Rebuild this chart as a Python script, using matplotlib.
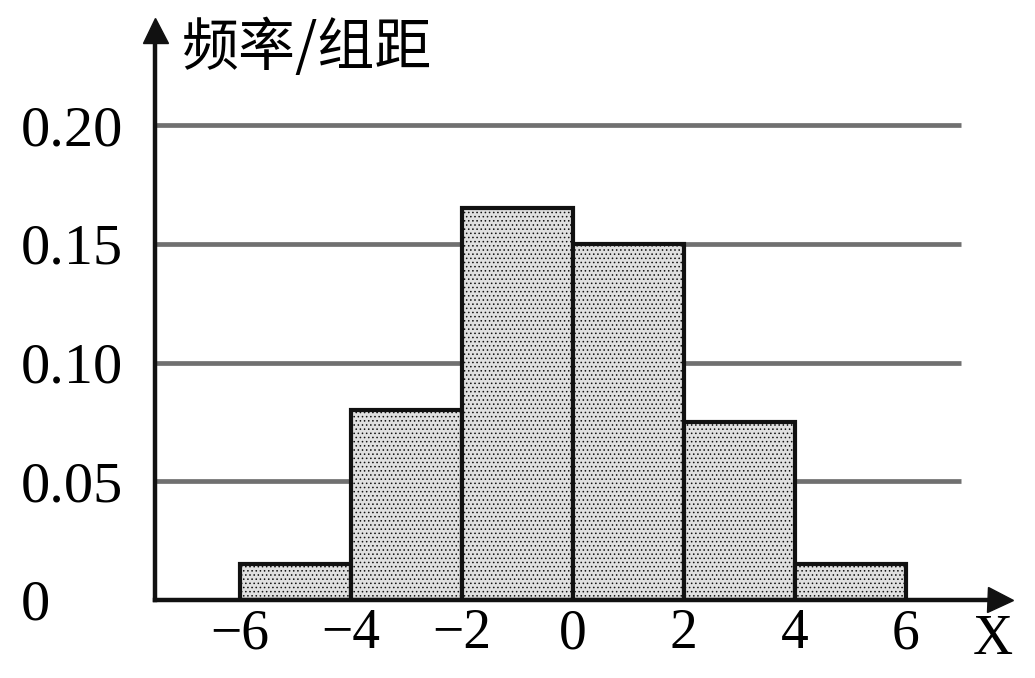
import matplotlib
matplotlib.use("Agg")
import matplotlib.pyplot as plt

bin_edges = [-6, -4, -2, 0, 2, 4, 6]
densities = [0.015, 0.08, 0.165, 0.15, 0.075, 0.015]
y_ticks = [0, 0.05, 0.10, 0.15, 0.20]
y_tick_labels = ["0", "0.05", "0.10", "0.15", "0.20"]
x_tick_labels = ["\u22126", "\u22124", "\u22122", "0", "2", "4", "6"]
y_title = "频率/组距"
x_title = "X"

plt.rcParams['hatch.color'] = '#9a9a9a'
plt.rcParams['hatch.linewidth'] = 0.6

fig = plt.figure(figsize=(10.35, 6.78), dpi=100)
ax = fig.add_axes([155/1035, 78/678, (1000-155)/1035, (648-78)/678])

xmin, xmax = -7.53, 7.7
ymin, ymax = 0, 0.24
ax.set_xlim(xmin, xmax)
ax.set_ylim(ymin, ymax)

# grid lines (textured dark lines in the original)
for yv in y_ticks[1:]:
    ax.plot([xmin, 7.0], [yv, yv], color='#707070', lw=3.4, zorder=1,
            solid_capstyle='butt')

# bars
widths = [bin_edges[i+1] - bin_edges[i] for i in range(len(densities))]
lefts = bin_edges[:-1]
ax.bar(lefts, densities, width=widths, align='edge', facecolor='#e0e0e0',
       edgecolor='#111111', linewidth=3, hatch='....', zorder=3)

# axes
for s in ['top', 'right']:
    ax.spines[s].set_visible(False)
for s in ['left', 'bottom']:
    ax.spines[s].set_linewidth(3.2)
    ax.spines[s].set_color('#111111')
    ax.spines[s].set_zorder(4)

# arrow heads
ax.plot([xmax], [0], marker='>', markersize=18, color='#111111', clip_on=False, zorder=5)
ax.plot([xmin], [ymax], marker='^', markersize=18, color='#111111', clip_on=False, zorder=5)

serif = ['Liberation Serif', 'DejaVu Serif']

ax.set_xticks(bin_edges)
ax.set_xticklabels(x_tick_labels, fontsize=40, family=serif)
ax.set_yticks(y_ticks)
ax.set_yticklabels(y_tick_labels, fontsize=42, family=serif)
for lab in ax.get_yticklabels():
    lab.set_horizontalalignment('left')
ax.tick_params(axis='y', length=0, pad=97)
ax.tick_params(axis='x', length=0, pad=6)

ax.text(7.2, -0.006, x_title, fontsize=40, family=serif, ha='left', va='top',
        clip_on=False)
ax.text(-7.05, 0.232, y_title, fontsize=41,
        family=['Noto Sans CJK SC', 'DejaVu Sans'], ha='left', va='center',
        clip_on=False)

fig.savefig('out.png', dpi=100)
